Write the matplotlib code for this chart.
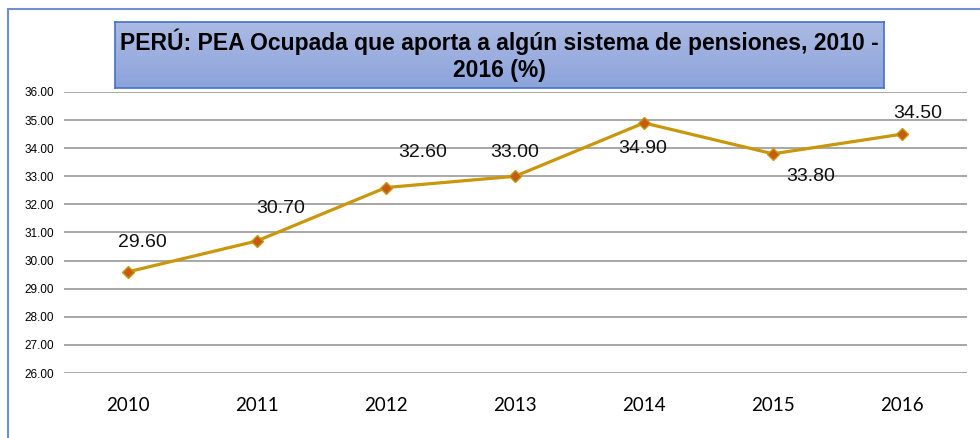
import matplotlib.pyplot as plt
from matplotlib.patches import Rectangle
import numpy as np

years = ['2010', '2011', '2012', '2013', '2014', '2015', '2016']
values = [29.60, 30.70, 32.60, 33.00, 34.90, 33.80, 34.50]
# label offsets in pixels (dx, dy) relative to each point
label_offsets = [(14, 29), (24, 32), (37, 35), (0, 24), (-1, -26), (38, -23), (16, 21)]
yticks = [26, 27, 28, 29, 30, 31, 32, 33, 34, 35, 36]

W, H = 980, 438
fig = plt.figure(figsize=(W / 100, H / 100), dpi=100)
fig.patch.set_facecolor('white')

# blue frame of the chart area (runs off the right and bottom edges)
fig.patches.append(Rectangle((8 / W, -0.05), 1.2, (H - 9) / H + 0.05, transform=fig.transFigure,
                             fill=False, edgecolor='#6f8fd0', linewidth=1.5))

ax = fig.add_axes([63.5 / W, (H - 373) / H, (966.5 - 63.5) / W, (373 - 92) / H])
x = np.arange(len(years))
ax.plot(x, values, color='#c9960c', linewidth=2.3, marker='D', markersize=6,
        markerfacecolor='#c55a11', markeredgecolor='#c9960c', markeredgewidth=1, zorder=3)

for xi, v, (dx, dy) in zip(x, values, label_offsets):
    ax.annotate(f'{v:.2f}', (xi, v), xytext=(dx, dy), textcoords='offset pixels',
                ha='center', va='center', fontsize=14, family='Liberation Sans', color='#111111')

ax.set_xlim(-0.5, len(years) - 0.5)
ax.set_ylim(26, 36)
ax.set_yticks(yticks)
ax.set_yticklabels([f'{t:.2f}' for t in yticks], fontsize=8.5, family='Liberation Sans')
ax.set_xticks(x)
ax.set_xticklabels(years, fontsize=13.5, family='Lato')
ax.tick_params(axis='both', length=0)
ax.tick_params(axis='y', pad=7)
ax.tick_params(axis='x', pad=17)
ax.grid(axis='y', color='#a0a0a0', linewidth=1.3)
ax.set_axisbelow(True)
for s in ax.spines.values():
    s.set_visible(False)

# title box with a soft vertical gradient
tax = fig.add_axes([115 / W, (H - 88) / H, (884 - 115) / W, 66 / H])
grad = np.linspace(0, 1, 100).reshape(-1, 1)
c1 = np.array([0.67, 0.73, 0.89])
c2 = np.array([0.55, 0.64, 0.86])
img = c1 + (c2 - c1) * grad[:, :, None]
tax.imshow(img, aspect='auto', extent=[0, 1, 0, 1], origin='upper')
tax.set_xlim(0, 1)
tax.set_ylim(0, 1)
tax.set_xticks([])
tax.set_yticks([])
for s in tax.spines.values():
    s.set_color('#4472c4')
    s.set_linewidth(1.2)
tax.text(0.5, 0.5, 'PERÚ: PEA Ocupada que aporta a algún sistema de pensiones, 2010 -\n2016 (%)',
         ha='center', va='center', fontsize=16.5, fontweight='bold', family='Liberation Sans',
         linespacing=1.22, color='black')

fig.savefig('out.png', dpi=100)
